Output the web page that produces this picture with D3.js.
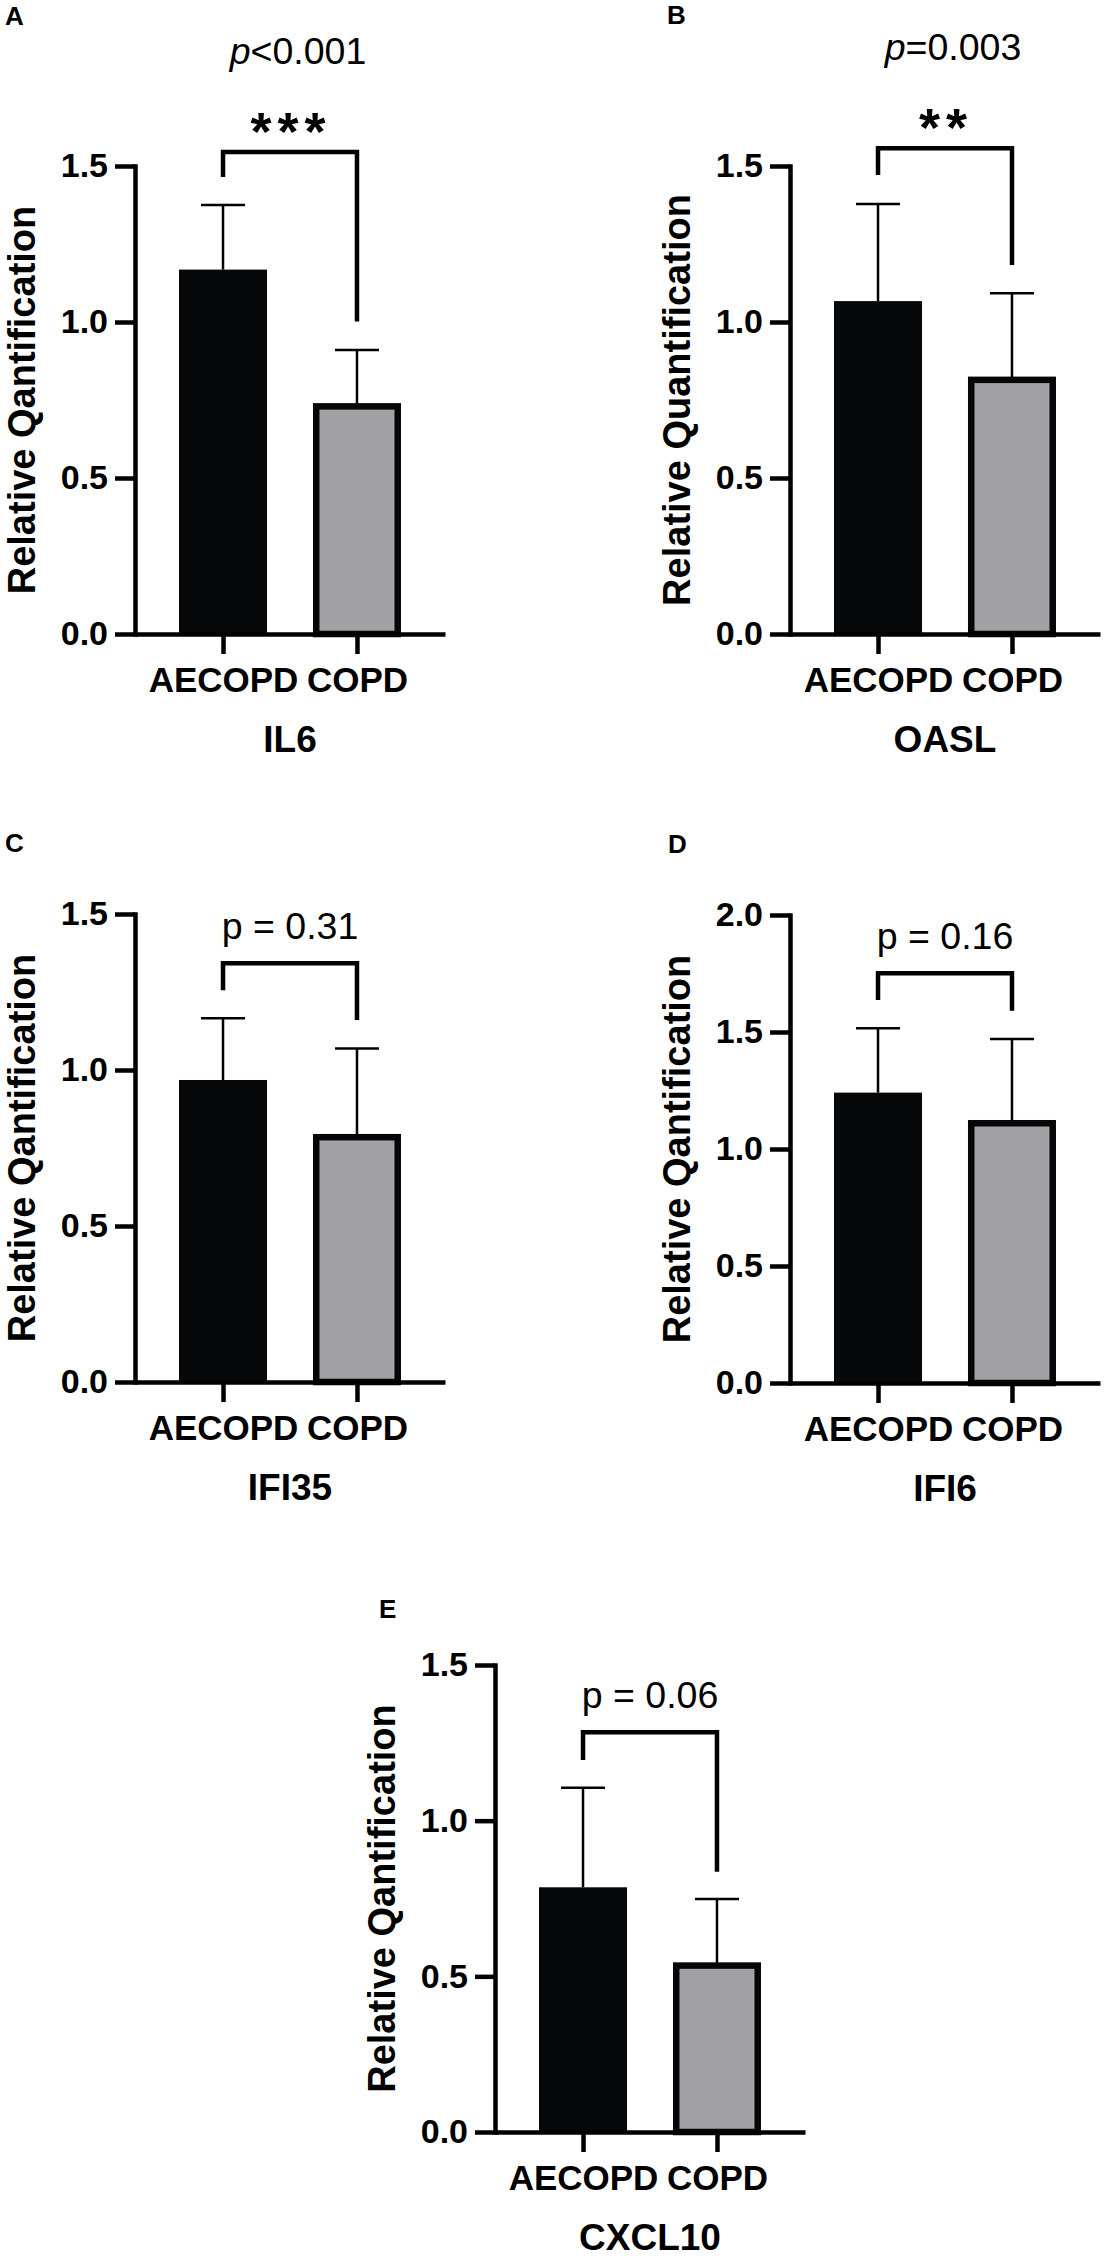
<!DOCTYPE html>
<html><head><meta charset="utf-8">
<script src="https://cdn.jsdelivr.net/npm/d3@7"></script>
<style>
body{margin:0;background:#fff}
text{font-family:'Liberation Sans',Arial,Helvetica,sans-serif;fill:#000}
</style>
</head><body>
<svg id="chart" width="1110" height="2261"></svg>
<script>
// ---------- data ----------
const groups = ["AECOPD", "COPD"];
const genes = ["IL6", "OASL", "IFI35", "IFI6", "CXCL10"];
const panelLetters = ["A", "B", "C", "D", "E"];
const meanAECOPD = [1.168, 1.067, 0.968, 1.241, 0.786];
const meanCOPD   = [0.740, 0.825, 0.795, 1.124, 0.545];
const sdAECOPD   = [0.207, 0.311, 0.198, 0.275, 0.320];
const sdCOPD     = [0.170, 0.267, 0.274, 0.346, 0.203];
const yMax = [1.5, 1.5, 1.5, 2.0, 1.5];
const yTicks15 = [0, 0.5, 1.0, 1.5];
const yTicks20 = [0, 0.5, 1.0, 1.5, 2.0];
const yTitles = ["Relative Qantification", "Relative Quantification", "Relative Qantification", "Relative Qantification", "Relative Qantification"];
const pPrefix = ["p", "p", "p = ", "p = ", "p = "];
const pValue  = ["<0.001", "=0.003", "0.31", "0.16", "0.06"];
const pItalic = [true, true, false, false, false];
const stars = ["***", "**", "", "", ""];
const bracketTop   = [1.545, 1.557, 1.342, 1.751, 1.284];
const bracketLeft  = [1.465, 1.471, 1.256, 1.637, 1.195];
const bracketRight = [1.002, 1.183, 1.160, 1.591, 0.836];

// ---------- layout ----------
const panels = [
  {ax: 135, top: 166, bottom: 634, lx: 5,   ly: 25},
  {ax: 790, top: 166, bottom: 634, lx: 667, ly: 24},
  {ax: 135, top: 914, bottom: 1382, lx: 5,  ly: 852},
  {ax: 790, top: 915, bottom: 1383, lx: 668, ly: 853},
  {ax: 495, top: 1665, bottom: 2132, lx: 379, ly: 1618}
];
const barW = 88, capW = 44;
const svg = d3.select("#chart");
svg.append("rect").attr("width",1110).attr("height",2261).attr("fill","#fff");

genes.forEach((gene, i) => {
  const P = panels[i];
  const g = svg.append("g");
  const y = d3.scaleLinear().domain([0, yMax[i]]).range([P.bottom, P.top]);
  const x = d3.scalePoint().domain(groups).range([P.ax, P.ax + 310]).padding(0.657);
  const means = [meanAECOPD[i], meanCOPD[i]];
  const sds = [sdAECOPD[i], sdCOPD[i]];
  const data = groups.map((grp, k) => ({grp, mean: means[k], sd: sds[k], k}));

  // bars
  g.selectAll("rect.bar").data(data).enter().append("rect")
    .attr("class","bar")
    .attr("x", d => d.k === 0 ? x(d.grp) - barW/2 : x(d.grp) - barW/2 + 3.25)
    .attr("width", d => d.k === 0 ? barW : barW - 6.5)
    .attr("y", d => d.k === 0 ? y(d.mean) : y(d.mean) + 3.25)
    .attr("height", d => d.k === 0 ? P.bottom - y(d.mean) : P.bottom - y(d.mean) - 3.25)
    .attr("fill", d => d.k === 0 ? "#060809" : "#a2a2a6")
    .attr("stroke", d => d.k === 0 ? "none" : "#060606")
    .attr("stroke-width", 6.5);

  // error bars (upper only)
  const eb = g.selectAll("g.eb").data(data).enter().append("g").attr("class","eb");
  eb.append("line")
    .attr("x1", d => x(d.grp)).attr("x2", d => x(d.grp))
    .attr("y1", d => y(d.mean) + (d.k === 0 ? 0 : 1)).attr("y2", d => y(d.mean + d.sd))
    .attr("stroke","#000").attr("stroke-width",2.5);
  eb.append("line")
    .attr("x1", d => x(d.grp) - capW/2).attr("x2", d => x(d.grp) + capW/2)
    .attr("y1", d => y(d.mean + d.sd)).attr("y2", d => y(d.mean + d.sd))
    .attr("stroke","#000").attr("stroke-width",2.5);

  // y axis
  const yAxis = d3.axisLeft(y)
    .tickValues(yMax[i] === 2 ? yTicks20 : yTicks15)
    .tickSize(20).tickSizeOuter(0).tickPadding(7)
    .tickFormat(d3.format(".1f"));
  const ya = g.append("g").attr("transform", `translate(${P.ax},0)`).call(yAxis);
  ya.select(".domain").attr("stroke","#000").attr("stroke-width",4.5).attr("stroke-linecap","square");
  ya.selectAll(".tick line").attr("stroke","#000").attr("stroke-width",4.5);
  ya.selectAll(".tick text").attr("font-size",34).attr("font-weight","bold")
    .attr("font-family","'Liberation Sans',Arial,sans-serif").attr("fill","#000");

  // x axis
  const xAxis = d3.axisBottom(x).tickSize(20).tickSizeOuter(0).tickPadding(13);
  const xa = g.append("g").attr("transform", `translate(0,${P.bottom})`).call(xAxis);
  xa.select(".domain").attr("stroke","#000").attr("stroke-width",4.5);
  xa.selectAll(".tick line").attr("stroke","#000").attr("stroke-width",4.5);
  xa.selectAll(".tick text").attr("font-size",35).attr("font-weight","bold")
    .attr("font-family","'Liberation Sans',Arial,sans-serif").attr("fill","#000");

  // bracket
  const xl = x(groups[0]), xr = x(groups[1]);
  g.append("path")
    .attr("d", `M${xl},${y(bracketLeft[i])}V${y(bracketTop[i])}H${xr}V${y(bracketRight[i])}`)
    .attr("fill","none").attr("stroke","#000").attr("stroke-width",4.5)
    .attr("stroke-linejoin","miter");

  const cx = (xl + xr) / 2;
  // stars and p-value
  if (stars[i]) {
    g.append("text").attr("x", cx + 1).attr("y", y(bracketTop[i]) - 2)
      .attr("text-anchor","middle").attr("font-size",54).attr("font-weight","bold")
      .attr("letter-spacing", 6)
      .text(stars[i]);
  }
  const pY = stars[i] ? y(bracketTop[i]) - 88 : y(bracketTop[i]) - 24;
  const pt = g.append("text").attr("x", cx + (pItalic[i] ? 8 : 0)).attr("y", pY)
    .attr("text-anchor","middle").attr("font-size",37.5);
  pt.append("tspan").attr("font-style", pItalic[i] ? "italic" : "normal").text(pPrefix[i]);
  pt.append("tspan").text(pValue[i]);

  // gene label
  g.append("text").attr("x", cx).attr("y", P.bottom + 118)
    .attr("text-anchor","middle").attr("font-size",37).attr("font-weight","bold").text(gene);

  // y title
  g.append("text")
    .attr("transform", `translate(${P.ax - 100},${(P.top + P.bottom)/2}) rotate(-90)`)
    .attr("text-anchor","middle").attr("font-size",38).attr("font-weight","bold")
    .text(yTitles[i]);

  // panel letter
  g.append("text").attr("x", P.lx).attr("y", P.ly)
    .attr("font-size",26).attr("font-weight","bold").text(panelLetters[i]);
});
</script>
</body></html>
